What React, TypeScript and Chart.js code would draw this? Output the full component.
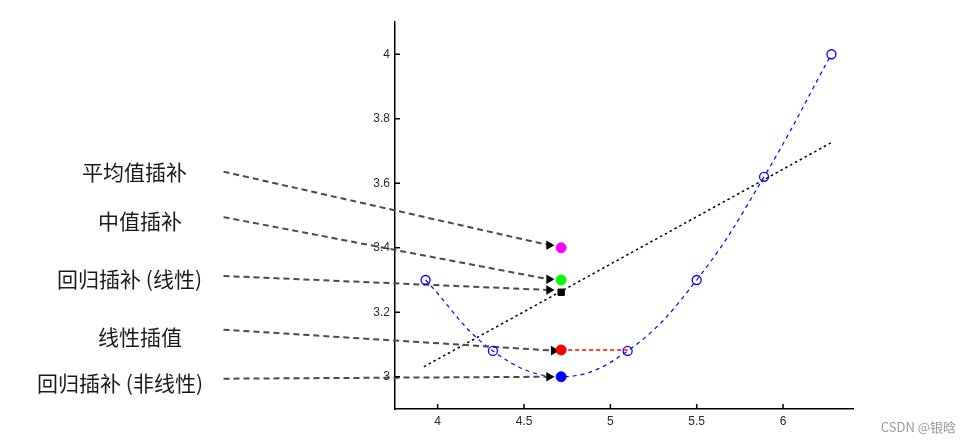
import React, { useEffect, useRef } from "react";
import { Chart, registerables } from "chart.js";
Chart.register(...registerables);

// ---- data ----
const observedX = [3.93, 4.32, 5.1, 5.5, 5.89, 6.28];
const observedY = [3.3, 3.08, 3.08, 3.3, 3.62, 4.0];
const missingX = 4.715;
const meanImputeY = 3.4;
const medianImputeY = 3.3;
const linRegImputeY = 3.262;
const linInterpY = 3.083;
const nonlinRegImputeY = 3.0;
const regLineX = [3.92, 6.28];
const regLineY = [3.031, 3.726];
const fitCurveX = [3.93, 4.32, 4.715, 5.1, 5.5, 5.89, 6.28];
const fitCurveY = [3.3, 3.08, 3.0, 3.08, 3.3, 3.62, 4.0];
const interpLineX = [4.715, 5.1];
const interpLineY = [3.083, 3.083];
const methodLabels = ["平均值插补", "中值插补", "回归插补 (线性)", "线性插值", "回归插补 (非线性)"];
const arrowStartX = [2.76, 2.76, 2.76, 2.76, 2.76];
const arrowStartY = [3.636, 3.495, 3.3125, 3.146, 2.994];
const arrowEndX = [4.645, 4.645, 4.645, 4.672, 4.645];
const arrowEndY = [3.408, 3.302, 3.269, 3.081, 3.0];
const xTicks = [4, 4.5, 5, 5.5, 6];
const xTickLabels = ["4", "4.5", "5", "5.5", "6"];
const yTicks = [3, 3.2, 3.4, 3.6, 3.8, 4];
const yTickLabels = ["3", "3.2", "3.4", "3.6", "3.8", "4"];
const watermark = "CSDN @银晗";

const pts = (xs: number[], ys: number[]) => xs.map((x, i) => ({ x, y: ys[i] }));

const overlayPlugin = {
  id: "overlay",
  afterDraw(chart: any) {
    const { ctx, chartArea, scales } = chart;
    const xs = scales.x;
    const ys = scales.y;
    ctx.save();
    // inward ticks
    ctx.strokeStyle = "#000";
    ctx.lineWidth = 1.5;
    yTicks.forEach((v) => {
      const py = ys.getPixelForValue(v);
      ctx.beginPath();
      ctx.moveTo(chartArea.left, py);
      ctx.lineTo(chartArea.left + 5, py);
      ctx.stroke();
    });
    xTicks.forEach((v) => {
      const px = xs.getPixelForValue(v);
      ctx.beginPath();
      ctx.moveTo(px, chartArea.bottom);
      ctx.lineTo(px, chartArea.bottom - 5);
      ctx.stroke();
    });
    // method labels
    ctx.fillStyle = "#1a1a1a";
    ctx.font = '21px "Noto Sans CJK SC", sans-serif';
    ctx.textAlign = "right";
    ctx.textBaseline = "middle";
    const rightEdges = [187, 182, 202, 182, 203];
    const yOffsets = [0, 4, 3, 7, 4];
    methodLabels.forEach((t, i) => {
      const py = ys.getPixelForValue(arrowStartY[i]) + yOffsets[i];
      ctx.fillText(t, rightEdges[i], py);
    });
    // watermark
    ctx.fillStyle = "#9a9a9a";
    ctx.font = '13px "Noto Sans CJK SC", sans-serif';
    ctx.textAlign = "right";
    ctx.fillText(watermark, 956, 427);
    ctx.restore();
  },
};

export default function App() {
  const ref = useRef<HTMLCanvasElement>(null);
  useEffect(() => {
    if (!ref.current) return;
    const arrowSets = methodLabels.map((_, i) => ({
      data: pts([arrowStartX[i], arrowEndX[i]], [arrowStartY[i], arrowEndY[i]]),
      showLine: true,
      borderColor: "#4a4a4a",
      borderWidth: 2,
      borderDash: [6, 4],
      pointRadius: [0, 5.5],
      pointStyle: "triangle",
      pointRotation: 90,
      pointBackgroundColor: "#000",
      pointBorderColor: "#000",
      pointBorderWidth: 0,
      clip: false,
    }));
    const chart = new Chart(ref.current, {
      type: "scatter",
      data: {
        datasets: [
          { data: pts([missingX], [meanImputeY]), pointRadius: 5, pointStyle: "circle", backgroundColor: "#ff00ff", borderColor: "#ff00ff" },
          { data: pts([missingX], [medianImputeY]), pointRadius: 5, pointStyle: "circle", backgroundColor: "#00ff00", borderColor: "#00ff00" },
          { data: pts([missingX], [linRegImputeY]), pointRadius: 4.5, pointStyle: "rect", backgroundColor: "#000", borderColor: "#000" },
          { data: pts([missingX], [linInterpY]), pointRadius: 5, pointStyle: "circle", backgroundColor: "#ff0000", borderColor: "#ff0000" },
          { data: pts([missingX], [nonlinRegImputeY]), pointRadius: 5, pointStyle: "circle", backgroundColor: "#0000ff", borderColor: "#0000ff" },
          { data: pts(observedX, observedY), pointRadius: 4.5, pointStyle: "circle", backgroundColor: "rgba(0,0,0,0)", borderColor: "#0000ff", borderWidth: 1.3 },
          ...arrowSets,
          { data: pts(interpLineX, interpLineY), showLine: true, pointRadius: 0, borderColor: "#ff0000", borderWidth: 1.3, borderDash: [4, 3] },
          { data: pts(regLineX, regLineY), showLine: true, pointRadius: 0, borderColor: "#000", borderWidth: 1.5, borderDash: [2.5, 3] },
          { data: pts(fitCurveX, fitCurveY), showLine: true, pointRadius: 0, borderColor: "#0000ff", borderWidth: 1.2, borderDash: [4, 4], tension: 0.4 },
        ] as any,
      },
      options: {
        animation: false,
        responsive: true,
        maintainAspectRatio: false,
        layout: { padding: { left: 0, top: 22, right: 118, bottom: 0 } },
        plugins: { legend: { display: false }, tooltip: { enabled: false } },
        scales: {
          x: {
            type: "linear",
            min: 3.753,
            max: 6.405,
            afterBuildTicks: (s: any) => { s.ticks = xTicks.map((v) => ({ value: v })); },
            afterFit: (s: any) => { s.height = 33; },
            grid: { display: false, drawTicks: false },
            border: { display: true, color: "#000", width: 1.5 },
            ticks: {
              padding: 5,
              color: "#2a2a2a",
              font: { family: "Liberation Sans, Arial, sans-serif", size: 12 },
              callback: (_v: any, i: number) => xTickLabels[i],
              maxRotation: 0,
            },
          },
          y: {
            type: "linear",
            min: 2.9,
            max: 4.1,
            afterBuildTicks: (s: any) => { s.ticks = yTicks.map((v) => ({ value: v })); },
            afterFit: (s: any) => { s.width = 395; },
            grid: { display: false, drawTicks: false },
            border: { display: true, color: "#000", width: 1.5 },
            ticks: {
              padding: 5,
              color: "#2a2a2a",
              font: { family: "Liberation Sans, Arial, sans-serif", size: 12 },
              callback: (_v: any, i: number) => yTickLabels[i],
            },
          },
        },
      },
      plugins: [overlayPlugin],
    });
    return () => chart.destroy();
  }, []);
  return (
    <div style={{ position: "absolute", left: 0, top: 0, width: 971, height: 442, background: "#fff" }}>
      <canvas ref={ref} />
    </div>
  );
}
